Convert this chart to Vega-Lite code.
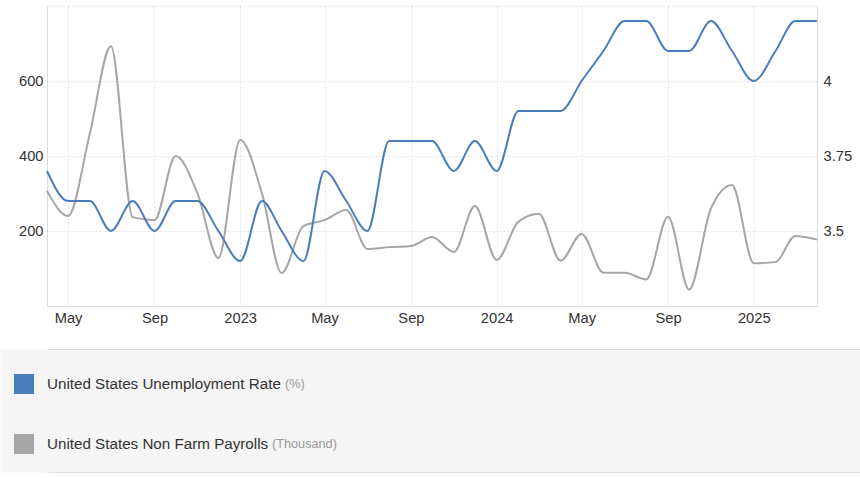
{
  "$schema": "https://vega.github.io/schema/vega-lite/v6.json",
  "padding": {"left": 0, "top": 6, "right": 0, "bottom": 0},
  "spacing": 9,
  "config": {
    "font": "Liberation Sans",
    "axis": {"labelFont": "Liberation Sans", "labelFontSize": 14.7, "labelColor": "#333333", "ticks": false, "domainColor": "#dddddd", "gridColor": "#e2e2e2", "gridDash": [2, 2], "title": null},
    "legend": {"labelFont": "Liberation Sans", "zindex": 1}
  },
  "datasets": {
    "rate": [
      {"date": "2022-04-01", "value": 3.7}, {"date": "2022-05-01", "value": 3.6}, {"date": "2022-06-01", "value": 3.6},
      {"date": "2022-07-01", "value": 3.5}, {"date": "2022-08-01", "value": 3.6}, {"date": "2022-09-01", "value": 3.5},
      {"date": "2022-10-01", "value": 3.6}, {"date": "2022-11-01", "value": 3.6}, {"date": "2022-12-01", "value": 3.5},
      {"date": "2023-01-01", "value": 3.4}, {"date": "2023-02-01", "value": 3.6}, {"date": "2023-03-01", "value": 3.5},
      {"date": "2023-04-01", "value": 3.4}, {"date": "2023-05-01", "value": 3.7}, {"date": "2023-06-01", "value": 3.6},
      {"date": "2023-07-01", "value": 3.5}, {"date": "2023-08-01", "value": 3.8}, {"date": "2023-09-01", "value": 3.8},
      {"date": "2023-10-01", "value": 3.8}, {"date": "2023-11-01", "value": 3.7}, {"date": "2023-12-01", "value": 3.8},
      {"date": "2024-01-01", "value": 3.7}, {"date": "2024-02-01", "value": 3.9}, {"date": "2024-03-01", "value": 3.9},
      {"date": "2024-04-01", "value": 3.9}, {"date": "2024-05-01", "value": 4.0}, {"date": "2024-06-01", "value": 4.1},
      {"date": "2024-07-01", "value": 4.2}, {"date": "2024-08-01", "value": 4.2}, {"date": "2024-09-01", "value": 4.1},
      {"date": "2024-10-01", "value": 4.1}, {"date": "2024-11-01", "value": 4.2}, {"date": "2024-12-01", "value": 4.1},
      {"date": "2025-01-01", "value": 4.0}, {"date": "2025-02-01", "value": 4.1}, {"date": "2025-03-01", "value": 4.2},
      {"date": "2025-04-01", "value": 4.2}
    ],
    "nfp": [
      {"date": "2022-04-01", "value": 307}, {"date": "2022-05-01", "value": 240}, {"date": "2022-06-01", "value": 460},
      {"date": "2022-07-01", "value": 693}, {"date": "2022-08-01", "value": 237}, {"date": "2022-09-01", "value": 229},
      {"date": "2022-10-01", "value": 400}, {"date": "2022-11-01", "value": 301}, {"date": "2022-12-01", "value": 128},
      {"date": "2023-01-01", "value": 443}, {"date": "2023-02-01", "value": 300}, {"date": "2023-03-01", "value": 88},
      {"date": "2023-04-01", "value": 213}, {"date": "2023-05-01", "value": 229}, {"date": "2023-06-01", "value": 256},
      {"date": "2023-07-01", "value": 152}, {"date": "2023-08-01", "value": 157}, {"date": "2023-09-01", "value": 160},
      {"date": "2023-10-01", "value": 184}, {"date": "2023-11-01", "value": 144}, {"date": "2023-12-01", "value": 267},
      {"date": "2024-01-01", "value": 123}, {"date": "2024-02-01", "value": 225}, {"date": "2024-03-01", "value": 246},
      {"date": "2024-04-01", "value": 121}, {"date": "2024-05-01", "value": 192}, {"date": "2024-06-01", "value": 89},
      {"date": "2024-07-01", "value": 89}, {"date": "2024-08-01", "value": 71}, {"date": "2024-09-01", "value": 238},
      {"date": "2024-10-01", "value": 44}, {"date": "2024-11-01", "value": 260}, {"date": "2024-12-01", "value": 323},
      {"date": "2025-01-01", "value": 114}, {"date": "2025-02-01", "value": 117}, {"date": "2025-03-01", "value": 187},
      {"date": "2025-04-01", "value": 177}
    ],
    "units": [
      {"rateUnit": "(%)", "payrollsUnit": "(Thousand)"}
    ]
  },
  "vconcat": [
    {
      "width": 770,
      "height": 300,
      "view": {"stroke": null},
      "layer": [
        {
          "data": {"name": "nfp"},
          "mark": {"type": "line", "interpolate": "monotone", "strokeWidth": 2},
          "encoding": {
            "x": {
              "field": "date", "type": "temporal",
              "scale": {"type": "utc", "domain": [{"year": 2022, "month": 4, "date": 1, "utc": true}, {"year": 2025, "month": 4, "date": 1, "utc": true}]},
              "axis": {"tickCount": {"interval": "month", "step": 4}, "labelExpr": "utcmonth(datum.value) === 0 ? utcFormat(datum.value, '%Y') : utcFormat(datum.value, '%b')", "labelPadding": 4, "minExtent": 30, "maxExtent": 30, "grid": true}
            },
            "y": {
              "field": "value", "type": "quantitative",
              "scale": {"domain": [0, 800], "nice": false, "zero": false},
              "axis": {"orient": "left", "values": [0, 200, 400, 600, 800], "labelExpr": "datum.value == 0 || datum.value == 800 ? '' : datum.label", "labelPadding": 4, "minExtent": 47, "maxExtent": 47, "grid": true}
            },
            "color": {
              "datum": "United States Non Farm Payrolls", "type": "nominal",
              "scale": {"domain": ["United States Unemployment Rate", "United States Non Farm Payrolls"], "range": ["#4a7ebb", "#a6a6a6"]},
              "legend": {
                "orient": "none", "legendX": -33, "legendY": 368, "direction": "vertical", "title": null, "zindex": 1,
                "symbolType": "square", "symbolSize": 100, "symbolStrokeWidth": 10, "symbolOpacity": 1, "rowPadding": 10, "labelOffset": 13,
                "labelFontSize": 15.2, "labelColor": "#333333", "labelLimit": 500, "padding": 0
              }
            }
          }
        },
        {
          "data": {"name": "rate"},
          "mark": {"type": "line", "interpolate": "monotone", "strokeWidth": 2},
          "encoding": {
            "x": {"field": "date", "type": "temporal"},
            "y": {
              "field": "value", "type": "quantitative",
              "scale": {"domain": [3.25, 4.25], "nice": false, "zero": false},
              "axis": {"orient": "right", "values": [3.5, 3.75, 4], "labelExpr": "toString(datum.value)", "labelPadding": 6, "grid": false}
            },
            "color": {"datum": "United States Unemployment Rate", "type": "nominal"}
          }
        }
      ],
      "resolve": {"scale": {"y": "independent"}}
    },
    {
      "width": 860,
      "height": 123,
      "view": {"fill": "#f5f5f5", "stroke": "#dddddd"},
      "data": {"name": "units"},
      "mark": {"type": "point", "opacity": 0},
      "encoding": {
        "y": {
          "datum": 0, "type": "quantitative",
          "axis": {"domainWidth": 48, "domainColor": "#f5f5f5", "domainCap": "butt", "offset": 23, "labels": false, "ticks": false, "grid": false, "minExtent": 0, "maxExtent": 0}
        },
        "shape": {
          "field": "rateUnit", "type": "nominal",
          "legend": {
            "orient": "none", "legendX": 205, "legendY": 368, "title": null, "zindex": 1,
            "symbolType": "square", "symbolSize": 400, "symbolOpacity": 0, "symbolStrokeWidth": 0, "labelOffset": 13,
            "labelFontSize": 12.7, "labelColor": "#999999", "padding": 0
          }
        },
        "fill": {
          "field": "payrollsUnit", "type": "nominal",
          "scale": {"range": ["#f5f5f5"]},
          "legend": {
            "orient": "none", "legendX": 192, "legendY": 428, "title": null, "zindex": 1,
            "symbolType": "square", "symbolSize": 400, "symbolOpacity": 0, "symbolStrokeWidth": 0, "labelOffset": 13,
            "labelFontSize": 12.7, "labelColor": "#999999", "padding": 0
          }
        }
      }
    }
  ]
}
